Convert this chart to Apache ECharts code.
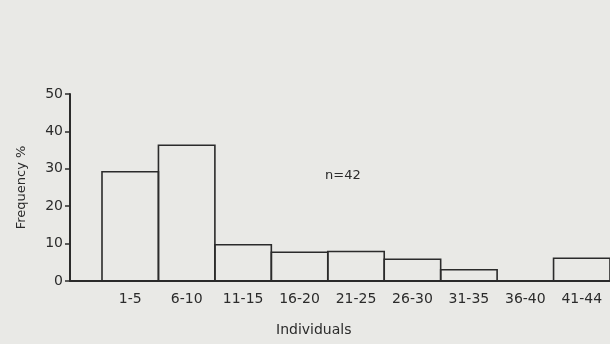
<!DOCTYPE html>
<html>
<head>
<meta charset="utf-8">
<script src="https://cdn.jsdelivr.net/npm/echarts@6/dist/echarts.min.js"></script>
<style>
html,body{margin:0;padding:0;background:#e9e9e6;}
#chart{width:610px;height:344px;}
</style>
</head>
<body>
<div id="chart"></div>
<script>
const categories = ['1-5','6-10','11-15','16-20','21-25','26-30','31-35','36-40','41-44'];
const frequency = [29.2, 36.3, 9.7, 7.7, 7.9, 5.8, 3.0, 0, 6.1];
const yTicks = [0, 10, 20, 30, 40, 50];
const yTitle = 'Frequency %';
const xTitle = 'Individuals';
const note = 'n=42';

const ink = '#2b2b2b';
const font = 'DejaVu Sans';
const chart = echarts.init(document.getElementById('chart'), null, {renderer: 'canvas'});
chart.setOption({
  backgroundColor: '#e9e9e6',
  animation: false,
  grid: [
    {left: 70, right: 0, top: 94, bottom: 63},
    {left: 102, right: -3, top: 94, bottom: 63}
  ],
  xAxis: [
    {gridIndex: 0, type: 'value', min: 0, max: 1,
     axisLine: {show: true, lineStyle: {color: ink, width: 2}},
     axisTick: {show: false}, axisLabel: {show: false}, splitLine: {show: false}},
    {gridIndex: 1, type: 'category', data: categories,
     axisLine: {show: false}, axisTick: {show: false}, splitLine: {show: false},
     axisLabel: {color: ink, fontFamily: font, fontSize: 14, margin: 11, interval: 0}}
  ],
  yAxis: [
    {gridIndex: 0, type: 'value', min: yTicks[0], max: yTicks[yTicks.length - 1], interval: 10,
     name: yTitle, nameLocation: 'middle', nameGap: 42, nameRotate: 90,
     nameTextStyle: {color: ink, fontFamily: font, fontSize: 13},
     axisLine: {show: true, lineStyle: {color: ink, width: 2}},
     axisTick: {show: true, length: 5, lineStyle: {color: ink, width: 1.5}},
     axisLabel: {color: ink, fontFamily: font, fontSize: 14, margin: 7},
     splitLine: {show: false}},
    {gridIndex: 1, type: 'value', min: yTicks[0], max: yTicks[yTicks.length - 1], show: false}
  ],
  series: [{
    type: 'custom', xAxisIndex: 1, yAxisIndex: 1,
    data: categories.map((c, i) => [c, frequency[i]]),
    encode: {x: 0, y: 1},
    renderItem: function (params, api) {
      const top = api.coord([api.value(0), api.value(1)]);
      const base = api.coord([api.value(0), 0]);
      const w = api.size([1, 0])[0];
      if (base[1] - top[1] <= 0) return null;
      return {
        type: 'rect',
        shape: {x: top[0] - w / 2, y: top[1], width: w, height: base[1] - top[1]},
        style: {fill: 'rgba(0,0,0,0)', stroke: ink, lineWidth: 1.6}
      };
    }
  }],
  graphic: [
    {type: 'text', left: 325, top: 169,
     style: {text: note, fill: ink, font: '13px "DejaVu Sans"'}},
    {type: 'text', left: 276, top: 323,
     style: {text: xTitle, fill: ink, font: '14px "DejaVu Sans"'}}
  ]
});
</script>
</body>
</html>
